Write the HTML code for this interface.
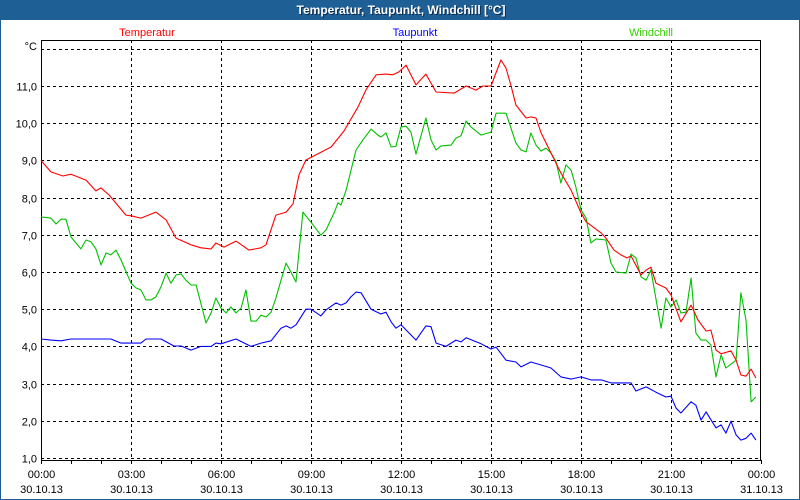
<!DOCTYPE html>
<html><head><meta charset="utf-8"><style>
html,body{margin:0;padding:0;background:#fff}
#wrap{position:relative;width:800px;height:500px;box-sizing:border-box;border:1px solid #1e5f96;border-top:none;background:#fff;overflow:hidden}
#title{position:absolute;left:0;top:0;width:800px;height:20px;background:#1e5f96;color:#fff;font:bold 12px "Liberation Sans",sans-serif;text-align:center;line-height:20px;text-shadow:1px 1px 0 #0a2a4a}
svg{position:absolute;left:-1px;top:0}
text{font-family:"Liberation Sans","DejaVu Sans",sans-serif;font-size:11px}
</style></head><body>
<div id="wrap">
<div id="title">Temperatur, Taupunkt, Windchill [°C]</div>
<svg id="chart" width="800" height="500"></svg>
</div>
<script>
const yTicks=[1,2,3,4,5,6,7,8,9,10,11,12];
const xTickHours=[0,3,6,9,12,15,18,21,24];
const xTickTimes=["00:00","03:00","06:00","09:00","12:00","15:00","18:00","21:00","00:00"];
const xTickDates=["30.10.13","30.10.13","30.10.13","30.10.13","30.10.13","30.10.13","30.10.13","30.10.13","31.10.13"];
const tempHours=[0,.33,.73,1,1.5,1.83,2,2.27,2.83,3,3.33,3.83,4.17,4.5,5,5.33,5.67,5.83,6.1,6.5,6.93,7.33,7.5,7.83,8.17,8.4,8.6,8.83,9.17,9.67,10.1,10.57,10.83,11.17,11.5,11.73,11.93,12.17,12.5,12.83,13.17,13.77,14.17,14.5,14.73,15,15.33,15.5,15.67,15.83,16.17,16.33,16.5,16.67,17,17.33,17.67,18,18.17,18.67,18.83,19.1,19.33,19.53,19.67,20,20.17,20.33,20.5,20.83,21,21.33,21.67,21.9,22.17,22.33,22.5,22.67,23,23.17,23.33,23.5,23.67,23.83];
const tempValues=[9.0,8.69,8.58,8.63,8.47,8.18,8.26,8.07,7.53,7.51,7.45,7.61,7.4,6.91,6.73,6.65,6.62,6.78,6.67,6.83,6.59,6.65,6.73,7.53,7.61,7.83,8.61,9.01,9.15,9.36,9.79,10.44,10.89,11.3,11.32,11.3,11.38,11.56,11.03,11.32,10.84,10.81,11.0,10.89,11.0,11.0,11.7,11.48,11.0,10.49,10.14,10.17,10.14,9.74,9.2,8.66,8.2,7.59,7.35,7.05,6.91,6.59,6.46,6.38,6.43,5.92,6.05,6.13,5.7,5.57,5.38,4.66,5.11,4.71,4.41,4.44,3.9,3.8,3.88,3.63,3.23,3.2,3.39,3.15];
const dewHours=[0,.33,.67,1,2.33,2.67,3.33,3.5,4,4.43,4.67,5,5.33,5.67,5.83,6,6.5,7,7.33,7.67,8,8.17,8.33,8.5,8.83,9,9.33,9.5,9.83,10,10.17,10.33,10.5,10.67,11,11.33,11.5,11.67,11.83,12,12.5,12.83,13,13.17,13.5,13.83,14,14.17,14.67,15,15.17,15.5,15.83,16,16.33,16.67,17,17.33,17.67,18,18.33,18.67,19,19.33,19.67,19.83,20.17,20.5,20.83,21,21.17,21.33,21.67,21.83,22,22.17,22.5,22.67,22.83,23,23.17,23.33,23.5,23.67,23.83];
const dewValues=[4.2,4.17,4.15,4.2,4.2,4.09,4.09,4.2,4.2,4.01,4.01,3.9,4.0,4.0,4.09,4.07,4.2,4.0,4.09,4.15,4.49,4.55,4.49,4.58,5.0,5.0,4.82,4.98,5.17,5.11,5.17,5.33,5.46,5.44,5.0,4.87,4.92,4.66,4.49,4.58,4.17,4.55,4.53,4.09,4.0,4.17,4.12,4.23,4.07,3.93,3.98,3.63,3.58,3.45,3.58,3.5,3.42,3.18,3.12,3.18,3.1,3.1,3.02,3.02,3.02,2.8,2.91,2.77,2.64,2.66,2.34,2.21,2.51,2.42,2.02,2.24,1.81,1.89,1.67,1.99,1.62,1.48,1.53,1.67,1.48];
const chillHours=[0,.33,.5,.67,.83,1,1.33,1.5,1.67,1.83,2,2.17,2.33,2.5,2.67,3,3.17,3.33,3.5,3.67,3.83,4,4.17,4.33,4.5,4.67,4.83,5,5.17,5.5,5.67,5.83,6,6.17,6.33,6.5,6.67,6.83,7,7.17,7.33,7.5,7.67,7.83,8,8.17,8.33,8.5,8.73,9,9.33,9.5,9.77,9.9,10,10.17,10.5,10.73,11,11.23,11.33,11.5,11.67,11.83,12,12.17,12.33,12.5,12.83,13,13.17,13.33,13.67,13.83,14,14.17,14.33,14.67,15,15.17,15.5,15.83,16,16.17,16.33,16.5,16.67,16.83,17,17.17,17.33,17.5,17.67,17.83,18,18.17,18.33,18.5,18.83,19,19.17,19.5,19.67,19.83,20,20.17,20.33,20.67,20.83,21,21.17,21.33,21.5,21.67,21.83,22,22.17,22.33,22.5,22.67,22.83,23.17,23.33,23.5,23.67,23.83];
const chillValues=[7.48,7.45,7.29,7.42,7.42,6.94,6.62,6.86,6.81,6.62,6.19,6.51,6.46,6.59,6.32,5.7,5.57,5.52,5.25,5.25,5.33,5.6,5.97,5.7,5.92,5.95,5.78,5.65,5.65,4.63,4.9,5.3,5.03,4.9,5.06,4.9,5.03,5.52,4.68,4.68,4.84,4.79,4.92,5.3,5.78,6.24,6.0,5.73,7.61,7.34,6.99,7.13,7.59,7.86,7.8,8.2,9.28,9.55,9.84,9.68,9.63,9.74,9.36,9.38,9.9,9.92,9.76,9.17,10.14,9.55,9.28,9.39,9.41,9.6,9.66,10.06,9.9,9.68,9.76,10.27,10.27,9.47,9.28,9.23,9.74,9.41,9.25,9.33,9.2,8.96,8.39,8.88,8.74,8.28,7.67,7.45,6.78,6.89,6.86,6.24,6.0,5.97,6.48,6.38,5.87,5.78,6.05,4.49,5.3,5.06,5.25,4.9,4.92,5.84,4.36,4.17,4.17,4.04,3.18,3.77,3.42,3.63,5.44,4.71,2.51,2.64];

const svg=document.getElementById('chart');
const NS='http://www.w3.org/2000/svg';
const L=41,R=761,T=40,B=460;
const xS=h=>L+h*(R-L)/24;
const yS=v=>458-(v-1)*37.2;
function mk(tag,attrs,parent){const e=document.createElementNS(NS,tag);for(const k in attrs)e.setAttribute(k,attrs[k]);(parent||svg).appendChild(e);return e;}

// horizontal grid + y labels
yTicks.forEach((v,i)=>{
  const y=Math.round(yS(v))+.5;
  const g=mk('line',{x1:L,x2:R,y1:y,y2:y,stroke:'#000','stroke-dasharray':'3,3','stroke-width':1});
  
  
  if(v<12){
    const t=mk('text',{x:37,y:y+4,'text-anchor':'end',fill:'#000'});
    t.textContent=v.toFixed(1).replace('.',',');
    
    
  }
});
const unit=mk('text',{x:37,y:50,'text-anchor':'end',fill:'#000'});
unit.textContent='°C';



// vertical grid + x labels
xTickHours.forEach((h,i)=>{
  const x=Math.round(xS(h))+.5;
  if(h>0&&h<24){
    const g=mk('line',{x1:x,x2:x,y1:T,y2:B,stroke:'#000','stroke-dasharray':'3,3'});
    
    
  }
  const t1=mk('text',{x:x,y:478,'text-anchor':'middle',fill:'#000'});
  t1.textContent=xTickTimes[i];
  
  
  const t2=mk('text',{x:x,y:493,'text-anchor':'middle',fill:'#000'});
  t2.textContent=xTickDates[i];
  
  
});
for(let h=0;h<=24;h++){
  const x=Math.round(xS(h))+.5;
  const tk=mk('line',{x1:x,x2:x,y1:B,y2:B+4,stroke:'#000'});
  
  
}
const frame=mk('rect',{x:L+.5,y:T+.5,width:R-L-1,height:B-T,fill:'none',stroke:'#000'});



function series(hours,vals,color,name){
  const d=hours.map((h,i)=>(i?'L':'M')+xS(h).toFixed(1)+','+yS(vals[i]).toFixed(1)).join('');
  const p=mk('path',{d:d,fill:'none',stroke:color,'stroke-width':1.1,'stroke-linejoin':'round'});
  
  
}
series(dewHours,dewValues,'#0000ff','taupunkt-line');
series(chillHours,chillValues,'#00c000','windchill-line');
series(tempHours,tempValues,'#ff0000','temperatur-line');

[['Temperatur',147,'#ff0000','legend-temperatur'],['Taupunkt',415,'#0000ff','legend-taupunkt'],['Windchill',651,'#33cc00','legend-windchill']].forEach(a=>{
  const t=mk('text',{x:a[1],y:36,'text-anchor':'middle',fill:a[2]});
  t.textContent=a[0];
  
  
});
</script>
</body></html>
